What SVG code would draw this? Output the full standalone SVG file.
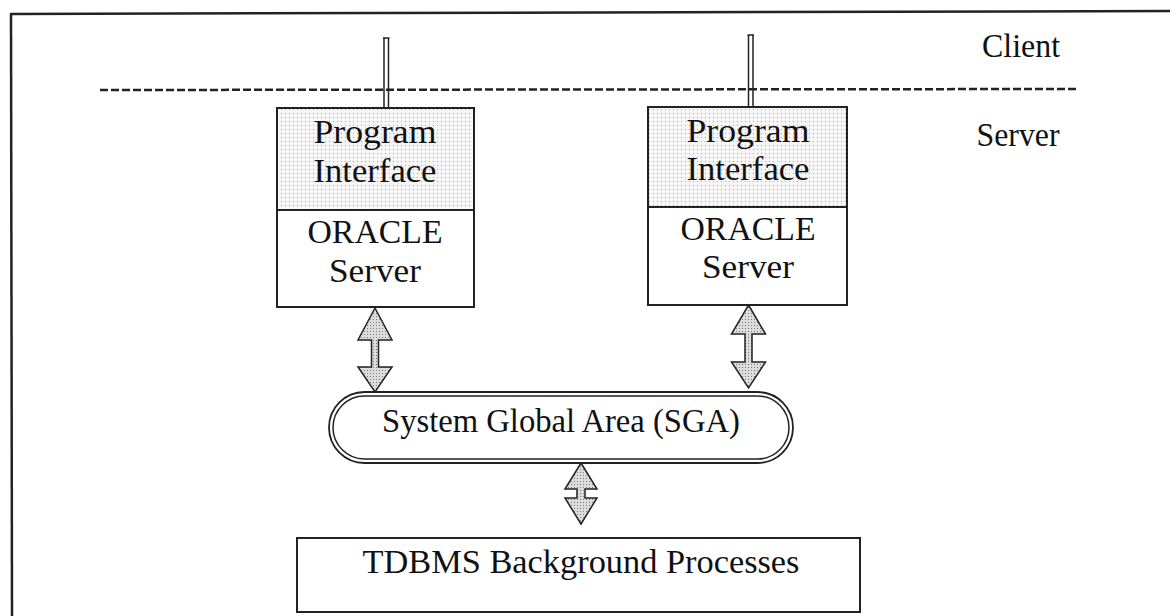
<svg xmlns="http://www.w3.org/2000/svg" width="1170" height="616" viewBox="0 0 1170 616">
<style>
.t{font-family:"Liberation Serif","Times New Roman",serif;font-size:33px;fill:#111;text-anchor:middle}
.box{fill:none;stroke:#222;stroke-width:2}
.arr{fill:url(#stip2);stroke:#222;stroke-width:1.5;stroke-linejoin:miter}
.dl{stroke:#222;stroke-width:1.5;fill:none}
</style>
<defs>
<pattern id="stip" width="4" height="4" patternUnits="userSpaceOnUse">
<rect width="4" height="4" fill="#f6f6f6"/>
<rect x="1" y="1" width="1" height="1" fill="#a8a8a8"/>
</pattern>
<pattern id="stip2" width="3" height="3" patternUnits="userSpaceOnUse">
<rect width="3" height="3" fill="#dcdcdc"/>
<rect x="1" y="1" width="1" height="1" fill="#7a7a7a"/>
</pattern>
</defs>
<rect width="1170" height="616" fill="#fff"/>
<g id="frame">
<line x1="10" y1="14" x2="1170" y2="11" stroke="#222" stroke-width="2.5"/>
<line x1="11" y1="14" x2="12" y2="616" stroke="#222" stroke-width="2.5"/>
</g>
<g id="divider">
<line x1="100" y1="90" x2="1077" y2="89" stroke="#222" stroke-width="2.5" stroke-dasharray="8,3"/>
</g>
<g id="labels">
<text class="t" x="1021" y="57" textLength="78" lengthAdjust="spacingAndGlyphs">Client</text>
<text class="t" x="1018" y="146" textLength="83" lengthAdjust="spacingAndGlyphs">Server</text>
</g>
<g id="connectors">
<line class="dl" x1="384" y1="38" x2="384" y2="108"/>
<line class="dl" x1="388.5" y1="38" x2="388.5" y2="108"/>
<line x1="383" y1="38" x2="389.5" y2="38" stroke="#222" stroke-width="1.5"/>
<line class="dl" x1="748.5" y1="35" x2="748.5" y2="107"/>
<line class="dl" x1="753" y1="35" x2="753" y2="107"/>
<line x1="747.5" y1="35" x2="754" y2="35" stroke="#222" stroke-width="1.5"/>
<path class="arr" d="M375,308 L392,340 L378.5,340 L378.5,367 L392,367 L375,392 L358,367 L371.5,367 L371.5,340 L358,340 Z"/>
<path class="arr" d="M748.5,305 L765.5,334 L752,334 L752,362 L765.5,362 L748.5,388 L731.5,362 L745,362 L745,334 L731.5,334 Z"/>
<path class="arr" d="M581,463 L597,489 L585,489 L585,498 L597,498 L581,524 L565,498 L577,498 L577,489 L565,489 Z"/>
</g>
<g id="node-left">
<rect x="277" y="108" width="197" height="102" fill="url(#stip)"/>
<rect class="box" x="277" y="108" width="197" height="199"/>
<line class="box" x1="277" y1="210" x2="474" y2="210"/>
<text class="t" x="375" y="143" textLength="123" lengthAdjust="spacingAndGlyphs">Program</text>
<text class="t" x="375" y="182" textLength="123" lengthAdjust="spacingAndGlyphs">Interface</text>
<text class="t" x="375" y="243" textLength="135" lengthAdjust="spacingAndGlyphs">ORACLE</text>
<text class="t" x="375" y="282" textLength="92" lengthAdjust="spacingAndGlyphs">Server</text>
</g>
<g id="node-right">
<rect x="648" y="107" width="199" height="100" fill="url(#stip)"/>
<rect class="box" x="648" y="107" width="199" height="198"/>
<line class="box" x1="648" y1="207" x2="847" y2="207"/>
<text class="t" x="748" y="142" textLength="123" lengthAdjust="spacingAndGlyphs">Program</text>
<text class="t" x="748" y="180" textLength="123" lengthAdjust="spacingAndGlyphs">Interface</text>
<text class="t" x="748" y="240" textLength="135" lengthAdjust="spacingAndGlyphs">ORACLE</text>
<text class="t" x="748" y="278" textLength="92" lengthAdjust="spacingAndGlyphs">Server</text>
</g>
<g id="node-sga">
<rect x="329" y="392" width="464" height="71" rx="35.5" ry="35.5" fill="#fff" stroke="#222" stroke-width="1.8"/>
<rect x="333" y="396" width="456" height="63" rx="31.5" ry="31.5" fill="none" stroke="#222" stroke-width="1.5"/>
<text class="t" x="561" y="432" textLength="358" lengthAdjust="spacingAndGlyphs">System Global Area (SGA)</text>
</g>
<g id="node-tdbms">
<rect class="box" x="297" y="538" width="563" height="74"/>
<text class="t" x="581" y="573" textLength="437" lengthAdjust="spacingAndGlyphs">TDBMS Background Processes</text>
</g>
</svg>
